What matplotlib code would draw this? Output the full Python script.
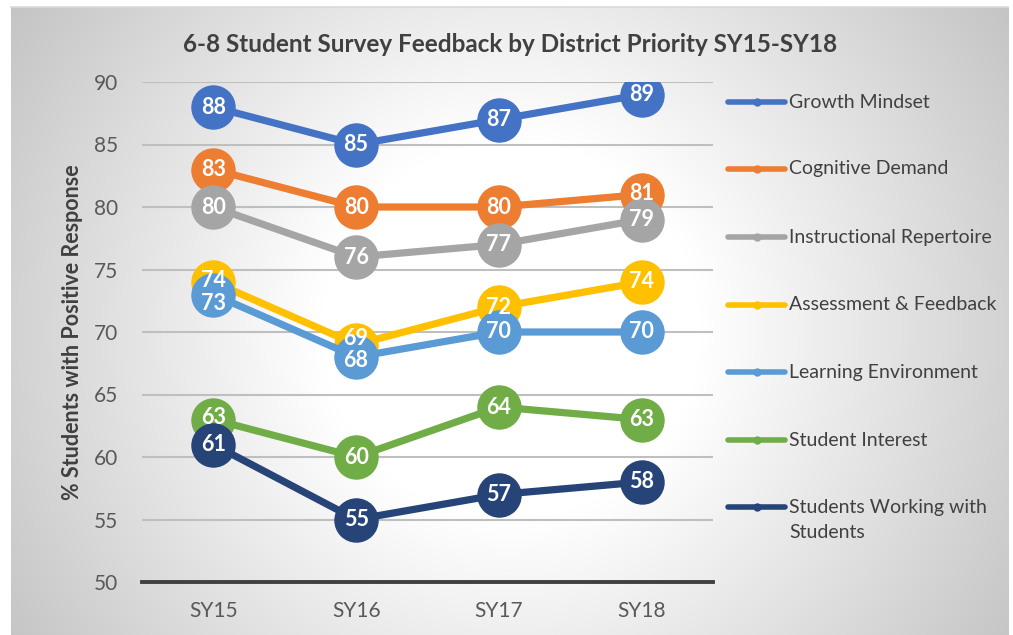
import numpy as np
import matplotlib
matplotlib.use("Agg")
import matplotlib.pyplot as plt
from matplotlib.lines import Line2D

categories = ["SY15", "SY16", "SY17", "SY18"]
series_names = ["Growth Mindset", "Cognitive Demand", "Instructional Repertoire",
                "Assessment & Feedback", "Learning Environment", "Student Interest",
                "Students Working with\nStudents"]
growth_mindset = [88, 85, 87, 89]
cognitive_demand = [83, 80, 80, 81]
instructional_repertoire = [80, 76, 77, 79]
assessment_feedback = [74, 69, 72, 74]
learning_environment = [73, 68, 70, 70]
student_interest = [63, 60, 64, 63]
students_working = [61, 55, 57, 58]
series_values = [growth_mindset, cognitive_demand, instructional_repertoire,
                 assessment_feedback, learning_environment, student_interest,
                 students_working]
colors = ["#4472C4", "#ED7D31", "#A5A5A5", "#FFC000", "#5B9BD5", "#70AD47", "#264478"]
yticks = [50, 55, 60, 65, 70, 75, 80, 85, 90]

plt.rcParams['font.family'] = ['Lato', 'DejaVu Sans']

W, H = 1013, 635
fig = plt.figure(figsize=(W / 100, H / 100), dpi=100)
fig.patch.set_facecolor("white")

# background radial gradient (chart area from x=11..1008, y=7..635 in pixels)
x0, x1, y0, y1 = 11, 1008, 7, 635
bg = fig.add_axes([x0 / W, 0, (x1 - x0) / W, (y1 - y0) / H])
bg.set_axis_off()
py, px = np.mgrid[y0:y1, x0:x1]
r = np.sqrt((px - 510.0) ** 2 + (py - 330.0) ** 2)
val = np.clip(1.0 - 0.00057 * np.maximum(0, r - 190), 0, 1)
img = np.dstack([val, val, val])
bg.imshow(img, aspect="auto", extent=[0, 1, 0, 1], interpolation="bilinear")
bg.set_xlim(0, 1)
bg.set_ylim(0, 1)
fig.add_artist(Line2D([x0 / W, x1 / W], [1 - 6.5 / H, 1 - 6.5 / H],
                      color="#d9d9d9", lw=1.2))

ax = fig.add_axes([142 / W, (H - 582) / H, (713 - 142) / W, 500 / H])
ax.set_facecolor("none")
x = np.arange(len(categories))
label_offsets = {(3, 0): 0.15, (4, 0): -0.75, (3, 1): 0.5, (4, 1): -0.25,
                 (5, 0): 0.2, (1, 3): 0.1}
for i, (name, vals, c) in enumerate(zip(series_names, series_values, colors)):
    ax.plot(x, vals, color=c, lw=5.2, marker="o", markersize=32, solid_capstyle="round",
            markeredgewidth=0, zorder=3 + i)
    for j, v in enumerate(vals):
        off = label_offsets.get((i, j), 0)
        ax.text(x[j], v + off, str(v), color="white", fontsize=15.5, fontweight="bold",
                ha="center", va="center", zorder=20)

ax.set_xlim(-0.5, len(categories) - 0.5)
ax.set_ylim(50, 90)
ax.set_yticks(yticks)
ax.set_xticks(x)
ax.set_xticklabels(categories)
ax.grid(axis="y", color="#BFBFBF", lw=1.5, zorder=0)
ax.set_axisbelow(True)
for s in ["top", "right", "left"]:
    ax.spines[s].set_visible(False)
ax.spines["bottom"].set_color("#404040")
ax.spines["bottom"].set_linewidth(2.8)
ax.tick_params(axis="both", length=0, labelsize=15, labelcolor="#595959")
ax.tick_params(axis="y", pad=17)
ax.tick_params(axis="x", pad=14)
ax.set_ylabel("% Students with Positive Response", fontsize=15.5, fontweight="bold",
              color="#404040", labelpad=8)

fig.text(510 / W, 1 - 45 / H, "6-8 Student Survey Feedback by District Priority SY15-SY18",
         ha="center", va="center", fontsize=17.5, fontweight="bold", color="#404040")

# legend drawn manually to mimic the reference layout
leg_y = [102, 169, 237, 305, 372, 440, 507]
for name, c, ly in zip(series_names, colors, leg_y):
    yf = 1 - ly / H
    fig.add_artist(Line2D([728 / W, 785 / W], [yf, yf], color=c, lw=4,
                          solid_capstyle="round"))
    fig.add_artist(Line2D([756.5 / W], [yf], color=c, marker="o", markersize=6,
                          markeredgewidth=0))
    for k, line in enumerate(name.split("\n")):
        fig.text(789 / W, 1 - (ly + 26 * k) / H, line, ha="left", va="center",
                 fontsize=14, color="#404040")

fig.savefig("out.png", dpi=100)
